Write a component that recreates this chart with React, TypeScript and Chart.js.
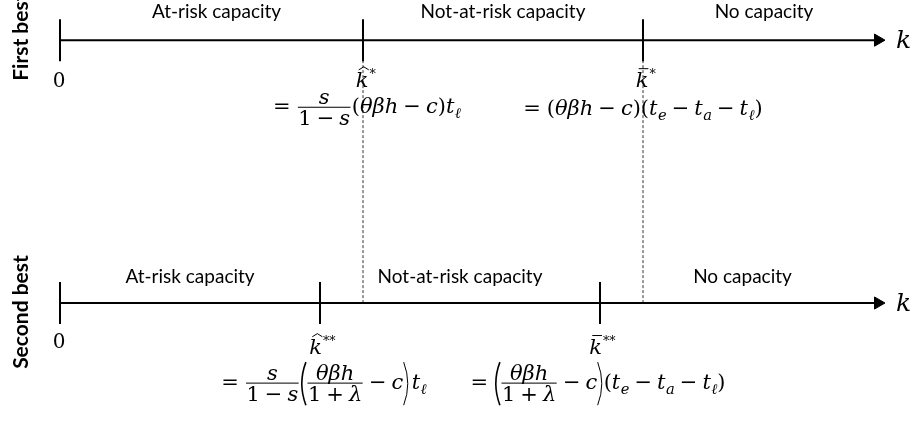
import React, { useEffect, useRef } from 'react';
import { Chart, registerables } from 'chart.js';

Chart.register(...registerables);

// ---- data ----
const rowNames = ['First best', 'Second best'];
const rowLevels = [1, 0];
const regionLabels = ['At-risk capacity', 'Not-at-risk capacity', 'No capacity'];
const firstBestBreaks = [0, 3.03, 5.83];
const secondBestBreaks = [0, 2.6, 5.4];
const axisHead = 8.18;
const originLabel = '0';
const axisVarLabel = 'k';

// ---- tiny math typesetting ----
type MN =
  | { t: 'r' | 'i'; s: string }
  | { t: 'sp'; w: number }
  | { t: 'frac'; n: MN[]; d: MN[] }
  | { t: 'par'; c: MN[] }
  | { t: 'sub'; b: string; s: string }
  | { t: 'acc'; b: string; a: 'hat' | 'bar'; sup: string };

const R = (s: string): MN => ({ t: 'r', s });
const I = (s: string): MN => ({ t: 'i', s });
const SP = (w = 0.24): MN => ({ t: 'sp', w });
const FR = (n: MN[], d: MN[]): MN => ({ t: 'frac', n, d });
const PAR = (c: MN[]): MN => ({ t: 'par', c });
const SUB = (b: string, s: string): MN => ({ t: 'sub', b, s });
const ACC = (b: string, a: 'hat' | 'bar', sup: string): MN => ({ t: 'acc', b, a, sup });

const minus = [SP(), R('−'), SP()];
const plus = [SP(), R('+'), SP()];
const sOver = FR([I('s')], [R('1'), ...minus, I('s')]);
const thetaOver = FR([I('θβh')], [R('1'), ...plus, I('λ')]);
const tTail = [R('('), SUB('t', 'e'), ...minus, SUB('t', 'a'), ...minus, SUB('t', 'ℓ'), R(')')];

const breakLabels: MN[][] = [
  [ACC('k', 'hat', '*')],
  [ACC('k', 'bar', '*')],
  [ACC('k', 'hat', '**')],
  [ACC('k', 'bar', '**')],
];
const formulas: MN[][] = [
  [R('='), SP(0.28), sOver, R('('), I('θβh'), ...minus, I('c'), R(')'), SUB('t', 'ℓ')],
  [R('='), SP(0.28), R('('), I('θβh'), ...minus, I('c'), R(')'), ...tTail],
  [R('='), SP(0.28), sOver, PAR([thetaOver, ...minus, I('c')]), SP(0.1), SUB('t', 'ℓ')],
  [R('='), SP(0.28), PAR([thetaOver, ...minus, I('c')]), ...tTail],
];

const MF = '"DejaVu Serif", "Liberation Serif", serif';
const fnt = (it: boolean, size: number) => `${it ? 'italic ' : ''}${size}px ${MF}`;
type Box = { w: number; a: number; d: number };

function measure(ctx: CanvasRenderingContext2D, nodes: MN[], size: number): Box {
  let w = 0, a = 0.7 * size, d = 0.2 * size;
  for (const n of nodes) {
    const b = measureNode(ctx, n, size);
    w += b.w; a = Math.max(a, b.a); d = Math.max(d, b.d);
  }
  return { w, a, d };
}
function measureNode(ctx: CanvasRenderingContext2D, n: MN, size: number): Box {
  switch (n.t) {
    case 'r':
    case 'i':
      ctx.font = fnt(n.t === 'i', size);
      return { w: ctx.measureText(n.s).width, a: 0.7 * size, d: 0.2 * size };
    case 'sp':
      return { w: n.w * size, a: 0, d: 0 };
    case 'sub': {
      ctx.font = fnt(true, size);
      const wb = ctx.measureText(n.b).width;
      ctx.font = fnt(true, size * 0.7);
      const ws = ctx.measureText(n.s).width;
      return { w: wb + ws + 0.02 * size, a: 0.7 * size, d: 0.35 * size };
    }
    case 'acc': {
      ctx.font = fnt(true, size);
      const wb = ctx.measureText(n.b).width;
      ctx.font = fnt(false, size * 0.65);
      const ws = ctx.measureText(n.sup).width;
      return { w: wb + ws + 0.05 * size, a: size, d: 0.2 * size };
    }
    case 'frac': {
      const bn = measure(ctx, n.n, size), bd = measure(ctx, n.d, size);
      const axis = 0.28 * size, gap = 0.1 * size;
      return { w: Math.max(bn.w, bd.w) + 0.16 * size, a: axis + gap + bn.d + bn.a, d: gap + bd.a + bd.d - axis };
    }
    case 'par': {
      const b = measure(ctx, n.c, size);
      const frac = n.c.some((c) => c.t === 'frac');
      const a = frac ? 0.28 * size + 0.1 * size + 0.9 * size : b.a;
      const d = frac ? 0.1 * size + 0.95 * size - 0.28 * size : b.d;
      return { w: b.w + 0.6 * size, a, d };
    }
  }
}
function drawNodes(ctx: CanvasRenderingContext2D, nodes: MN[], x: number, y: number, size: number) {
  for (const n of nodes) x += drawNode(ctx, n, x, y, size);
}
function drawNode(ctx: CanvasRenderingContext2D, n: MN, x: number, y: number, size: number): number {
  const b = measureNode(ctx, n, size);
  switch (n.t) {
    case 'r':
    case 'i':
      ctx.font = fnt(n.t === 'i', size);
      ctx.fillText(n.s, x, y);
      break;
    case 'sp':
      break;
    case 'sub': {
      ctx.font = fnt(true, size);
      const wb = ctx.measureText(n.b).width;
      ctx.fillText(n.b, x, y);
      ctx.font = fnt(true, size * 0.7);
      ctx.fillText(n.s, x + wb + 0.02 * size, y + 0.22 * size);
      break;
    }
    case 'acc': {
      ctx.font = fnt(true, size);
      const wb = ctx.measureText(n.b).width;
      ctx.fillText(n.b, x, y);
      const cx = x + wb / 2 + 0.08 * size;
      ctx.lineWidth = 1;
      ctx.beginPath();
      if (n.a === 'hat') {
        ctx.moveTo(cx - 0.24 * size, y - 0.82 * size);
        ctx.lineTo(cx, y - 0.97 * size);
        ctx.lineTo(cx + 0.24 * size, y - 0.82 * size);
      } else {
        ctx.moveTo(cx - 0.24 * size, y - 0.88 * size);
        ctx.lineTo(cx + 0.22 * size, y - 0.88 * size);
      }
      ctx.stroke();
      ctx.font = fnt(false, size * 0.6);
      ctx.fillText(n.sup, x + wb + 0.05 * size, y - 0.45 * size);
      break;
    }
    case 'frac': {
      const bn = measure(ctx, n.n, size), bd = measure(ctx, n.d, size);
      const axis = 0.28 * size, gap = 0.1 * size;
      const cx = x + b.w / 2;
      drawNodes(ctx, n.n, cx - bn.w / 2, y - axis - gap - 0.05 * size, size);
      drawNodes(ctx, n.d, cx - bd.w / 2, y - axis + gap + 0.74 * size, size);
      ctx.lineWidth = 1;
      ctx.beginPath();
      ctx.moveTo(x + 0.06 * size, y - axis);
      ctx.lineTo(x + b.w - 0.06 * size, y - axis);
      ctx.stroke();
      break;
    }
    case 'par': {
      const pw = 0.3 * size;
      const top = y - b.a, bot = y + b.d, mid = (top + bot) / 2;
      ctx.lineWidth = 1.6;
      ctx.beginPath();
      ctx.moveTo(x + pw * 0.95, top);
      ctx.quadraticCurveTo(x - pw * 0.35, mid, x + pw * 0.95, bot);
      ctx.stroke();
      drawNodes(ctx, n.c, x + pw, y, size);
      const rx = x + b.w;
      ctx.beginPath();
      ctx.moveTo(rx - pw * 0.95, top);
      ctx.quadraticCurveTo(rx + pw * 0.35, mid, rx - pw * 0.95, bot);
      ctx.stroke();
      break;
    }
  }
  return b.w;
}
function drawCentered(ctx: CanvasRenderingContext2D, nodes: MN[], cx: number, y: number, size: number) {
  const b = measure(ctx, nodes, size);
  drawNodes(ctx, nodes, cx - b.w / 2, y, size);
}

const SANS = 'Lato, "Open Sans", sans-serif';
const MATH_SIZE = 21;

const textPlugin = {
  id: 'diagramText',
  afterDatasetsDraw(chart: any) {
    const ctx: CanvasRenderingContext2D = chart.ctx;
    const xs = chart.scales.x, ys = chart.scales.y;
    const X = (v: number) => xs.getPixelForValue(v);
    const Y = (v: number) => ys.getPixelForValue(v);
    ctx.save();
    ctx.fillStyle = '#000';
    ctx.strokeStyle = '#000';
    ctx.textBaseline = 'alphabetic';
    const rows = [firstBestBreaks, secondBestBreaks];
    rows.forEach((br, r) => {
      const yRow = Y(rowLevels[r]);
      // row name, rotated
      ctx.save();
      ctx.font = `bold 21px ${SANS}`;
      ctx.textAlign = 'center';
      ctx.translate(28, yRow + (r === 0 ? -3 : 9));
      ctx.rotate(-Math.PI / 2);
      ctx.fillText(rowNames[r], 0, 0);
      ctx.restore();
      // region labels
      ctx.font = `19px ${SANS}`;
      ctx.textAlign = 'center';
      const ends = [...br, axisHead];
      const tipX = X(axisHead) + 7;
      regionLabels.forEach((lab, i) => {
        const a = X(ends[i]);
        const b = i + 1 < br.length ? X(ends[i + 1]) : tipX;
        ctx.fillText(lab, (a + b) / 2 + (r === 0 && i === 0 ? 5 : 0), yRow + (r === 0 ? -22 : -20));
      });
      // origin
      ctx.font = `20px ${MF}`;
      ctx.fillText(originLabel, X(br[0]) - 1, yRow + (r === 0 ? 47 : 45));
      // axis variable
      ctx.font = `italic 25px ${MF}`;
      ctx.textAlign = 'left';
      ctx.fillText(axisVarLabel, tipX + 11, yRow + 8);
      // break labels + formulas
      for (let j = 1; j < br.length; j++) {
        const idx = r * 2 + (j - 1);
        drawCentered(ctx, breakLabels[idx], X(br[j]) + 3, yRow + (r === 0 ? 47 : 51), MATH_SIZE);
        const fdx = [4, 0, 4, -2][idx];
        const fdy = [73, 75, 86, 86][idx];
        drawCentered(ctx, formulas[idx], X(br[j]) + fdx, yRow + fdy, MATH_SIZE);
      }
    });
    ctx.restore();
  },
};

export default function App() {
  const ref = useRef<HTMLCanvasElement | null>(null);
  useEffect(() => {
    document.body.style.margin = '0';
    if (!ref.current) return;
    const datasets: any[] = [];
    const rows = [firstBestBreaks, secondBestBreaks];
    rows.forEach((br, r) => {
      const L = rowLevels[r];
      datasets.push({
        label: rowNames[r] + ' axis',
        data: [{ x: br[0], y: L }, { x: axisHead, y: L }],
        showLine: true,
        borderColor: '#000',
        borderWidth: 2,
        pointRadius: [0, 7],
        pointStyle: 'triangle',
        rotation: 90,
        pointBackgroundColor: '#000',
        pointBorderColor: '#000',
        pointBorderWidth: 1,
        clip: false,
      });
      datasets.push({
        label: rowNames[r] + ' ticks',
        data: br.map((b) => ({ x: b, y: L })),
        showLine: false,
        pointStyle: 'line',
        rotation: 90,
        pointRadius: 21,
        pointBorderColor: '#000',
        borderColor: '#000',
        pointBorderWidth: 2,
        clip: false,
      });
    });
    firstBestBreaks.slice(1).forEach((b) => {
      datasets.push({
        label: 'link',
        data: [{ x: b, y: rowLevels[0] }, { x: b, y: rowLevels[1] }],
        showLine: true,
        borderColor: '#333',
        borderWidth: 1,
        borderDash: [3, 2],
        pointRadius: 0,
        clip: false,
      });
    });
    const chart = new Chart(ref.current, {
      type: 'scatter',
      data: { datasets },
      options: {
        animation: false,
        responsive: true,
        maintainAspectRatio: false,
        events: [],
        layout: { padding: 0, autoPadding: false },
        plugins: { legend: { display: false }, tooltip: { enabled: false } },
        scales: {
          x: { type: 'linear', min: -0.6, max: 8.55, display: false },
          y: { type: 'linear', min: -0.4489, max: 1.1527, display: false },
        },
      },
      plugins: [textPlugin],
    });
    return () => chart.destroy();
  }, []);
  return (
    <div style={{ position: 'relative', width: 915, height: 421, background: '#fff' }}>
      <canvas ref={ref} />
    </div>
  );
}
